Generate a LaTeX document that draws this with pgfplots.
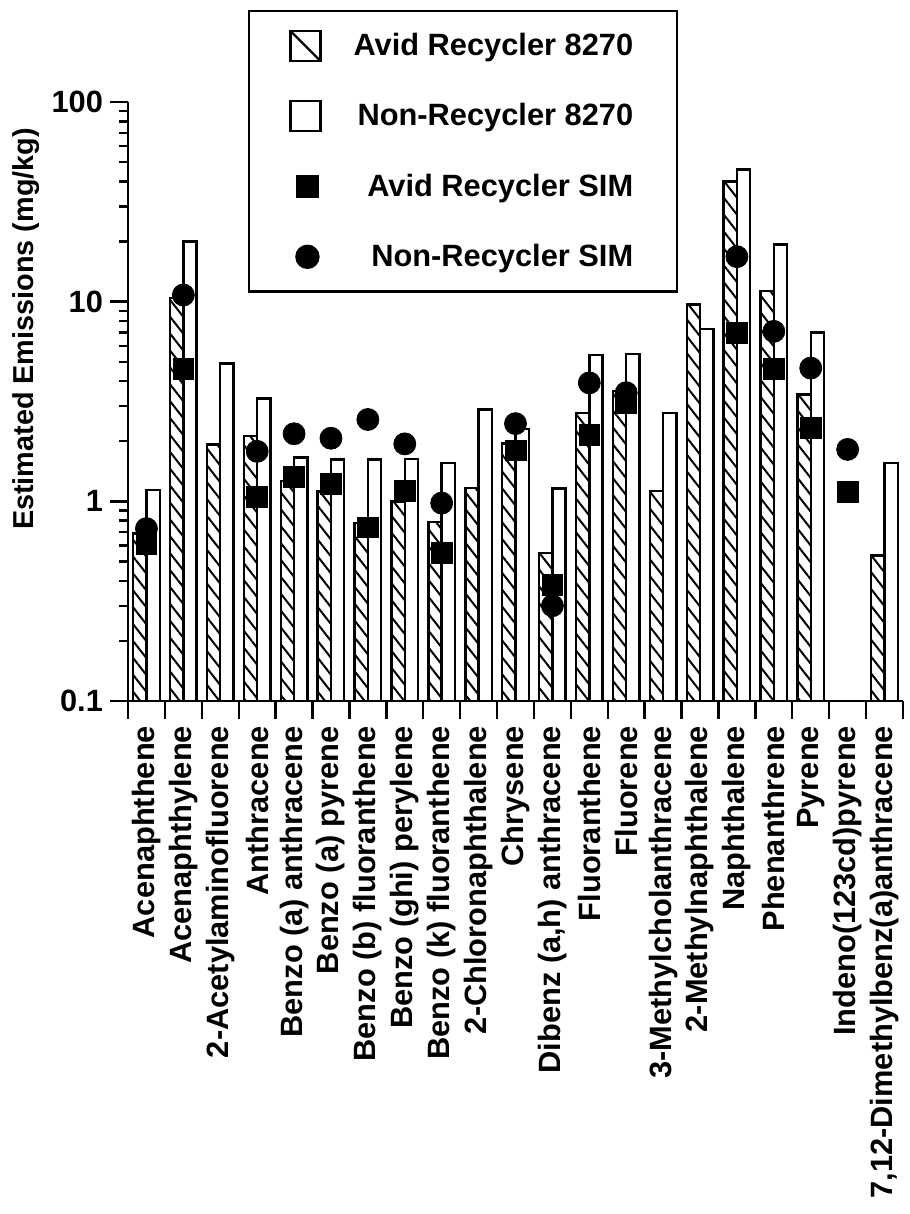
\documentclass[border=0pt]{standalone}
\usepackage{fontspec}
\setmainfont{Liberation Sans}
\usepackage{pgfplots}
\pgfplotsset{compat=1.18}
\usetikzlibrary{patterns.meta}

\newcommand{\lblfont}{\fontsize{15.4}{18}\selectfont\bfseries}
\newcommand{\ylblfont}{\fontsize{14.4}{17}\selectfont\bfseries}

\begin{document}
\begin{tikzpicture}
\begin{axis}[
  scale only axis,
  width=387.5pt, height=299.5pt,
  ymode=log, ymin=0.1, ymax=100,
  xmin=-0.5, xmax=20.5,
  log origin=infty,
  axis x line*=bottom, axis y line*=left,
  axis line style={line width=1.2pt, black},
  tick align=outside,
  major tick length=9pt, minor tick length=4.5pt,
  tick style={line width=1.2pt, black},
  xtick={-0.5,0.5,1.5,2.5,3.5,4.5,5.5,6.5,7.5,8.5,9.5,10.5,11.5,12.5,13.5,14.5,15.5,16.5,17.5,18.5,19.5,20.5},
  xticklabels={},
  extra x ticks={0,1,2,3,4,5,6,7,8,9,10,11,12,13,14,15,16,17,18,19,20},
  extra x tick labels={Acenaphthene,Acenaphthylene,2-Acetylaminofluorene,Anthracene,Benzo (a) anthracene,Benzo (a) pyrene,Benzo (b) fluoranthene,Benzo (ghi) perylene,Benzo (k) fluoranthene,2-Chloronaphthalene,Chrysene,{Dibenz (a,h) anthracene},Fluoranthene,Fluorene,3-Methylcholanthracene,2-Methylnaphthalene,Naphthalene,Phenanthrene,Pyrene,Indeno(123cd)pyrene,{7,12-Dimethylbenz(a)anthracene}},
  extra x tick style={tick style={draw=none}},
  xticklabel style={rotate=90, anchor=east, font=\lblfont},
  ytick={0.1,1,10,100}, yticklabels={0.1,1,10,100},
  minor ytick={0.2,0.3,0.4,0.5,0.6,0.7,0.8,0.9,2,3,4,5,6,7,8,9,20,30,40,50,60,70,80,90},
  yticklabel style={font=\lblfont},
  /pgf/number format/assume math mode=true,
  ylabel={Estimated Emissions (mg/kg)},
  ylabel style={at={(axis description cs:-0.1316,0.621)}, anchor=center, font=\ylblfont},
  legend style={at={(axis description cs:0.1548,1.1536)}, anchor=north west, draw=black, line width=1.2pt, font=\lblfont, row sep=18.5pt, inner xsep=20pt, inner ysep=9pt, /tikz/every odd column/.append style={column sep=14pt}},
  legend cell align=right,
]
\addplot[ybar, bar width=0.36, bar shift=-0.18, draw=black, line width=1.2pt,
  pattern={Lines[angle=-52,distance=5.2pt,line width=1pt]},
  legend image code/.code={\draw[line width=1.2pt, fill=white] (0pt,-7.5pt) rectangle (15pt,7.5pt); \draw[line width=1.2pt] (0pt,7.5pt) -- (15pt,-7.5pt);}]
coordinates {(0,0.69) (1,10.4) (2,1.93) (3,2.12) (4,1.26) (5,1.12) (6,0.78) (7,1.0) (8,0.79) (9,1.17) (10,1.95) (11,0.55) (12,2.77) (13,3.56) (14,1.13) (15,9.7) (16,40) (17,11.3) (18,3.43) (20,0.536)};
\addlegendentry{Avid Recycler 8270}
\addplot[ybar, bar width=0.36, bar shift=0.18, draw=black, fill=white, line width=1.2pt,
  legend image code/.code={\draw[line width=1.2pt, fill=white] (0pt,-7.5pt) rectangle (15pt,7.5pt);}]
coordinates {(0,1.14) (1,20) (2,4.9) (3,3.28) (4,1.66) (5,1.62) (6,1.62) (7,1.63) (8,1.56) (9,2.88) (10,2.3) (11,1.16) (12,5.4) (13,5.45) (14,2.77) (15,7.3) (16,46) (17,19.3) (18,7.0) (20,1.56)};
\addlegendentry{Non-Recycler 8270}
\addplot[only marks, mark=square*, mark size=5.2pt, black]
coordinates {(0,0.61) (1,4.6) (3,1.05) (4,1.33) (5,1.22) (6,0.74) (7,1.13) (8,0.55) (10,1.8) (11,0.38) (12,2.16) (13,3.11) (16,7.0) (17,4.6) (18,2.33) (19,1.12)};
\addlegendentry{Avid Recycler SIM}
\addplot[only marks, mark=*, mark size=5.5pt, black]
coordinates {(0,0.73) (1,10.8) (3,1.78) (4,2.18) (5,2.07) (6,2.57) (7,1.94) (8,0.98) (10,2.45) (11,0.30) (12,3.92) (13,3.5) (16,16.8) (17,7.1) (18,4.65) (19,1.82)};
\addlegendentry{Non-Recycler SIM}
\end{axis}
\path ([shift={(-64pt,-256.5pt)}]current axis.south west) rectangle ([shift={(390.5pt,350.5pt)}]current axis.south west);
\end{tikzpicture}
\end{document}
